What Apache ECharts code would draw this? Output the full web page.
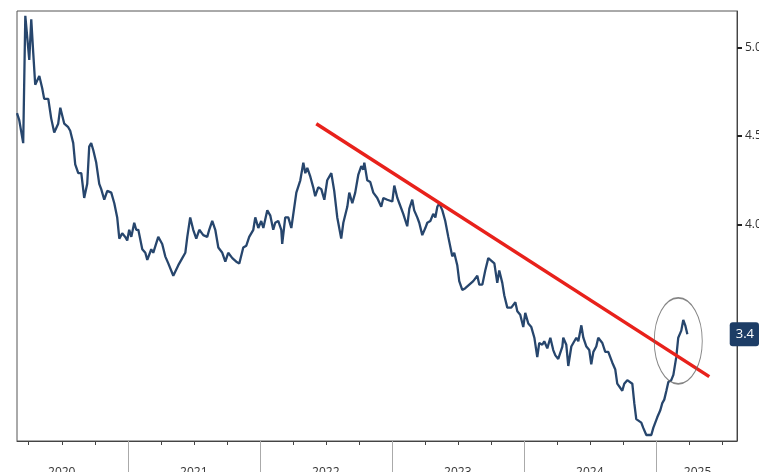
<!DOCTYPE html>
<html>
<head>
<meta charset="utf-8">
<script src="https://cdn.jsdelivr.net/npm/echarts@6/dist/echarts.min.js"></script>
<style>
  html, body { margin: 0; padding: 0; background: #fff; }
  #chart { width: 759px; height: 472px; }
</style>
</head>
<body>
<div id="chart"></div>
<script>
// dates as decimal years
const dates = [
  2020.161, 2020.178, 2020.208, 2020.224, 2020.254, 2020.269, 2020.284, 2020.299, 2020.330, 2020.352,
  2020.367, 2020.398, 2020.420, 2020.443, 2020.473, 2020.489, 2020.504, 2020.519, 2020.549, 2020.564,
  2020.587, 2020.602, 2020.625, 2020.648, 2020.670, 2020.693, 2020.708, 2020.723, 2020.739, 2020.761,
  2020.784, 2020.799, 2020.822, 2020.845, 2020.875, 2020.898, 2020.920, 2020.936, 2020.958, 2020.981,
  2020.996, 2021.011, 2021.027, 2021.049, 2021.064, 2021.080, 2021.110, 2021.133, 2021.148, 2021.178,
  2021.193, 2021.231, 2021.261, 2021.284, 2021.307, 2021.345, 2021.360, 2021.383, 2021.413, 2021.436,
  2021.451, 2021.473, 2021.496, 2021.519, 2021.542, 2021.572, 2021.602, 2021.617, 2021.640, 2021.663,
  2021.686, 2021.716, 2021.739, 2021.761, 2021.792, 2021.822, 2021.845, 2021.875, 2021.898, 2021.920,
  2021.951, 2021.966, 2021.989, 2022.011, 2022.027, 2022.042, 2022.057, 2022.080, 2022.102, 2022.117,
  2022.140, 2022.163, 2022.170, 2022.193, 2022.216, 2022.239, 2022.254, 2022.277, 2022.307, 2022.330,
  2022.345, 2022.360, 2022.383, 2022.405, 2022.420, 2022.443, 2022.466, 2022.489, 2022.511, 2022.542,
  2022.564, 2022.587, 2022.617, 2022.633, 2022.663, 2022.678, 2022.701, 2022.723, 2022.746, 2022.769,
  2022.784, 2022.792, 2022.814, 2022.837, 2022.860, 2022.890, 2022.920, 2022.936, 2022.966, 2022.981,
  2023.004, 2023.019, 2023.042, 2023.057, 2023.087, 2023.117, 2023.133, 2023.155, 2023.170, 2023.193,
  2023.208, 2023.231, 2023.254, 2023.269, 2023.292, 2023.314, 2023.330, 2023.345, 2023.360, 2023.383,
  2023.405, 2023.428, 2023.458, 2023.473, 2023.496, 2023.511, 2023.534, 2023.557, 2023.587, 2023.617,
  2023.648, 2023.663, 2023.686, 2023.708, 2023.731, 2023.746, 2023.777, 2023.799, 2023.814, 2023.837,
  2023.852, 2023.875, 2023.905, 2023.920, 2023.936, 2023.951, 2023.973, 2023.996, 2024.011, 2024.034,
  2024.057, 2024.080, 2024.102, 2024.117, 2024.140, 2024.155, 2024.178, 2024.201, 2024.223, 2024.239,
  2024.261, 2024.292, 2024.299, 2024.322, 2024.337, 2024.360, 2024.375, 2024.398, 2024.413, 2024.436,
  2024.451, 2024.474, 2024.496, 2024.511, 2024.527, 2024.549, 2024.564, 2024.595, 2024.617, 2024.640,
  2024.670, 2024.693, 2024.708, 2024.723, 2024.746, 2024.761, 2024.784, 2024.799, 2024.822, 2024.837,
  2024.852, 2024.867, 2024.890, 2024.905, 2024.928, 2024.943, 2024.966, 2024.981, 2025.011, 2025.034,
  2025.049, 2025.064, 2025.080, 2025.095, 2025.117, 2025.133, 2025.155, 2025.170, 2025.193, 2025.208,
  2025.223, 2025.239
];
const yields = [
  4.63, 4.59, 4.46, 5.18, 4.93, 5.16, 4.97, 4.79, 4.84, 4.77,
  4.71, 4.71, 4.60, 4.52, 4.57, 4.66, 4.66, 4.57, 4.55, 4.53,
  4.46, 4.34, 4.29, 4.29, 4.15, 4.23, 4.44, 4.46, 4.42, 4.35,
  4.23, 4.20, 4.14, 4.19, 4.18, 4.12, 4.04, 3.92, 3.95, 3.93,
  3.91, 3.97, 3.93, 4.01, 3.97, 3.97, 3.86, 3.84, 3.80, 3.86,
  3.84, 3.93, 3.89, 3.82, 3.78, 3.71, 3.71, 3.77, 3.81, 3.84,
  3.93, 4.04, 3.97, 3.92, 3.97, 3.94, 3.93, 3.97, 4.02, 3.97,
  3.87, 3.84, 3.79, 3.84, 3.81, 3.79, 3.78, 3.87, 3.88, 3.93,
  3.97, 4.04, 3.98, 4.02, 3.98, 3.99, 4.08, 4.05, 3.97, 4.01,
  4.02, 3.97, 3.89, 4.04, 4.04, 3.98, 3.98, 4.18, 4.25, 4.35,
  4.29, 4.32, 4.27, 4.21, 4.16, 4.21, 4.20, 4.14, 4.25, 4.29,
  4.19, 4.04, 3.92, 4.01, 4.10, 4.18, 4.12, 4.18, 4.28, 4.33,
  4.31, 4.35, 4.25, 4.24, 4.18, 4.15, 4.10, 4.15, 4.14, 4.15,
  4.13, 4.22, 4.15, 4.12, 4.06, 3.99, 4.09, 4.14, 4.08, 4.04,
  4.01, 3.94, 3.98, 4.01, 4.02, 4.06, 4.04, 4.10, 4.12, 4.08,
  4.02, 3.93, 3.82, 3.84, 3.77, 3.68, 3.63, 3.64, 3.66, 3.68,
  3.71, 3.66, 3.66, 3.74, 3.81, 3.81, 3.78, 3.67, 3.74, 3.67,
  3.60, 3.53, 3.53, 3.53, 3.56, 3.51, 3.49, 3.42, 3.50, 3.44,
  3.42, 3.36, 3.25, 3.33, 3.32, 3.34, 3.30, 3.36, 3.29, 3.26,
  3.24, 3.31, 3.36, 3.32, 3.20, 3.31, 3.33, 3.36, 3.34, 3.43,
  3.36, 3.31, 3.29, 3.21, 3.28, 3.31, 3.36, 3.33, 3.28, 3.28,
  3.22, 3.18, 3.10, 3.11, 3.06, 3.10, 3.12, 3.12, 3.10, 2.99,
  2.90, 2.91, 2.88, 2.85, 2.81, 2.80, 2.81, 2.85, 2.91, 2.95,
  2.99, 3.01, 3.06, 3.11, 3.12, 3.15, 3.25, 3.36, 3.40, 3.46,
  3.43, 3.38
];

// red down trend line (start / end)
const trendDates = [2022.428, 2025.405];
const trendValues = [4.57, 3.14];

// grey circle round the break-out
const circleDate = [2025.170];
const circleValue = [3.342];

// axis ticks and labels
const yearLabels = ['2020', '2021', '2022', '2023', '2024', '2025'];
const yearLabelAt = [2020.5, 2021.5, 2022.5, 2023.5, 2024.5, 2025.316];
const yearStarts = [2021, 2022, 2023, 2024, 2025];
const quarterTicks = [
  2020.25, 2020.5, 2020.75, 2021, 2021.25, 2021.5, 2021.75, 2022, 2022.25, 2022.5, 2022.75,
  2023, 2023.25, 2023.5, 2023.75, 2024, 2024.25, 2024.5, 2024.75, 2025, 2025.25, 2025.5
];
const yTickValues = [4.0, 4.5, 5.0];

const xMin = 2020.161;
const xMax = 2025.615;

const chart = echarts.init(document.getElementById('chart'));

const lineData = dates.map((d, i) => [d, yields[i]]);
const lastValue = yields[yields.length - 1];

const option = {
  animation: false,
  textStyle: { fontFamily: '"Open Sans", "Noto Sans", sans-serif' },
  grid: {
    left: 17,
    top: 11,
    right: 22,
    bottom: 31,
    containLabel: false,
    outerBoundsMode: 'none',
    show: true,
    borderColor: '#555',
    borderWidth: 1,
  },
  xAxis: [{
    type: 'value',
    min: xMin,
    max: xMax,
    position: 'bottom',
    splitLine: { show: false },
    axisLine: { lineStyle: { color: '#444', width: 1 } },
    axisTick: {
      customValues: quarterTicks,
      length: 4,
      inside: false,
      lineStyle: { color: '#444' },
    },
    axisLabel: {
      customValues: yearLabelAt,
      formatter(v) {
        return yearLabels[yearLabelAt.indexOf(v)] || '';
      },
      color: '#333',
      fontSize: 12,
      margin: 26,
    },
  }, {
    // year separators below the axis
    type: 'value',
    min: xMin,
    max: xMax,
    position: 'bottom',
    splitLine: { show: false },
    axisLine: { show: false },
    axisTick: {
      customValues: yearStarts,
      length: 32,
      inside: false,
      lineStyle: { color: '#aaa' },
    },
    axisLabel: { show: false },
  }],
  yAxis: {
    type: 'value',
    position: 'right',
    min: 2.776,
    max: 5.207,
    splitLine: { show: false },
    axisLine: { show: true, lineStyle: { color: '#444' } },
    axisTick: {
      show: true,
      customValues: yTickValues,
      length: 5,
      lineStyle: { color: '#222', width: 2 },
    },
    axisLabel: {
      customValues: yTickValues,
      formatter(v) { return v.toFixed(1); },
      color: '#333',
      fontSize: 12,
      margin: 8,
    },
    axisPointer: {
      show: true,
      status: 'show',
      value: lastValue,
      triggerTooltip: false,
      lineStyle: { opacity: 0 },
      label: {
        show: true,
        formatter(p) { return Number(p.value).toFixed(1); },
        backgroundColor: '#1d3d66',
        color: '#fff',
        fontSize: 13,
        padding: [6, 5, 5, 6],
        margin: 12,
        borderRadius: 3,
      },
    },
  },
  series: [{
    name: 'yield',
    type: 'line',
    data: lineData,
    showSymbol: false,
    lineStyle: { color: '#27466d', width: 2.3 },
    z: 3,
  }, {
    name: 'trend',
    type: 'line',
    data: trendDates.map((d, i) => [d, trendValues[i]]),
    showSymbol: false,
    lineStyle: { color: '#e8211b', width: 3.5 },
    z: 4,
  }, {
    name: 'circle',
    type: 'scatter',
    data: circleDate.map((d, i) => [d, circleValue[i]]),
    symbol: 'circle',
    symbolSize: [48, 86],
    itemStyle: { color: 'rgba(0,0,0,0)', borderColor: '#666', borderWidth: 1.2 },
    silent: true,
    z: 5,
  }],
};

chart.setOption(option);
</script>
</body>
</html>
